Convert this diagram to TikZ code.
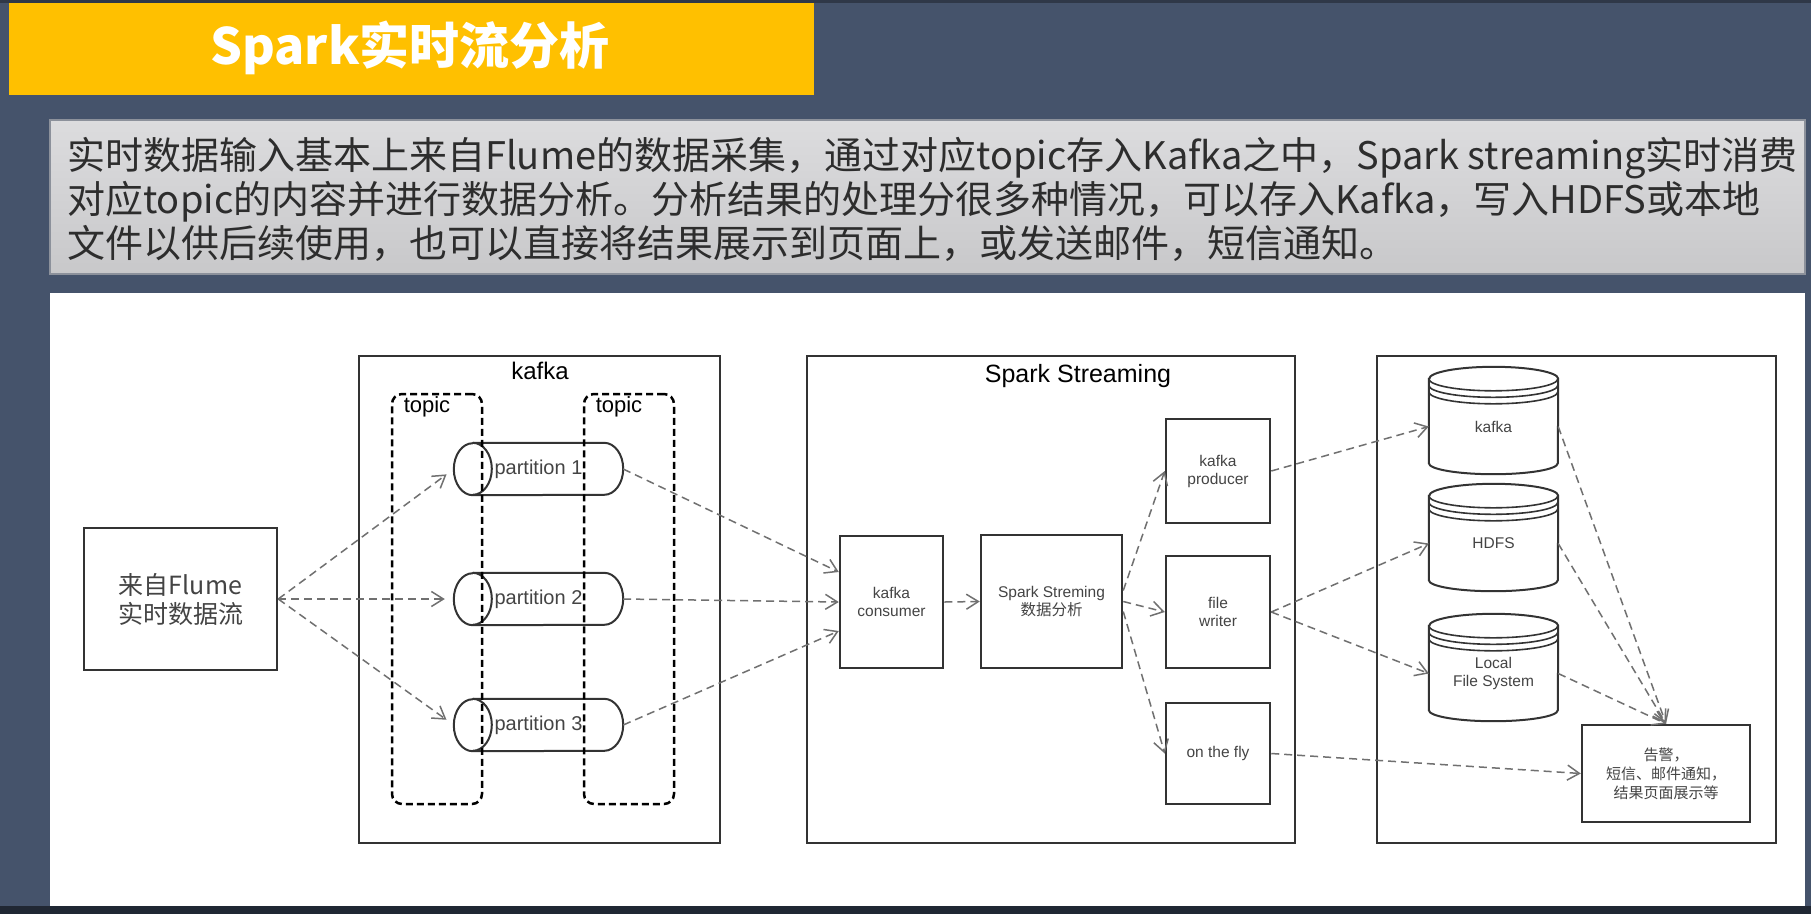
\documentclass[tikz,border=0pt]{standalone}
\usepackage{fontspec}
\usepackage{tikz}
\usetikzlibrary{positioning,arrows.meta}
\setmainfont{Liberation Sans}
\newfontfamily\cjk{Noto Sans CJK SC}

\definecolor{slate}{RGB}{69,83,107}
\definecolor{slatedark}{RGB}{47,56,72}
\definecolor{bottomdark}{RGB}{32,39,51}
\definecolor{banner}{RGB}{255,192,0}
\definecolor{desctop}{RGB}{220,220,222}
\definecolor{descbottom}{RGB}{200,200,202}
\definecolor{descline}{RGB}{140,145,155}
\definecolor{desctext}{RGB}{45,45,45}
\definecolor{boxline}{RGB}{51,51,51}
\definecolor{flowgray}{RGB}{112,112,112}
\definecolor{labelgray}{RGB}{68,68,68}

\tikzset{
  box/.style={draw=boxline, line width=2.5pt, fill=white, inner sep=0pt, text=labelgray, align=center},
  frame/.style={draw=boxline, line width=2.5pt, inner sep=0pt},
  topicbox/.style={draw=black, line width=2.5pt, dash pattern=on 7pt off 4pt, rounded corners=10pt, inner sep=0pt},
  partbox/.style={minimum width=169pt, minimum height=52pt, inner sep=0pt, text=labelgray, font=\fontsize{20}{24}\selectfont},
  store/.style={minimum width=129pt, minimum height=95pt, inner sep=0pt, text=labelgray, align=center, small},
  flow/.style={draw=flowgray, line width=1.5pt, dash pattern=on 8pt off 5pt, -{Straight Barb[length=12pt,width=15pt]}},
  small/.style={font=\fontsize{15.5}{18}\selectfont},
  heading/.style={text=black, inner sep=0pt},
}

\begin{document}
\begin{tikzpicture}[x=1pt,y=1pt]
\useasboundingbox (0,0) rectangle (1811,-914);
\fill[slate] (0,0) rectangle (1811,-914);
\fill[slatedark] (0,0) rectangle (1811,-3);
\fill[bottomdark] (0,-906) rectangle (1811,-914);
\fill[banner] (9,-3) rectangle (814,-95);
\node[font=\cjk\bfseries\fontsize{50}{60}\selectfont, text=white] (title) at (410,-48) {Spark实时流分析};
\shade[top color=desctop, bottom color=descbottom, draw=descline, line width=1.5pt] (50,-120) rectangle (1805,-274);
\node[font=\cjk\fontsize{38}{44}\selectfont, text=desctext, align=left, anchor=west, inner sep=0pt] (desc) at (67,-199)
  {实时数据输入基本上来自Flume的数据采集，通过对应topic存入Kafka之中，Spark streaming实时消费\\
   对应topic的内容并进行数据分析。分析结果的处理分很多种情况，可以存入Kafka，写入HDFS或本地\\
   文件以供后续使用，也可以直接将结果展示到页面上，或发送邮件，短信通知。};
\fill[white] (50,-293) rectangle (1805,-906);

\node[box, minimum width=193pt, minimum height=142pt, font=\cjk\fontsize{25}{29}\selectfont] (flume) at (180.5,-599) {来自Flume\\实时数据流};

\node[frame, minimum width=361pt, minimum height=487pt] (kafka) at (539.5,-599.5) {};
\node[heading, font=\fontsize{24}{28}\selectfont] (kafkaLbl) at (540,-371) {kafka};
\foreach \i/\y in {1/-469,2/-599,3/-725} {
  \node[partbox] (part\i) at (538.5,\y) {partition \i};
  \draw[boxline, line width=2pt] ([xshift=19pt]part\i.north west) -- ([xshift=-19pt]part\i.north east)
    arc[start angle=90, end angle=-90, x radius=19pt, y radius=26pt] -- ([xshift=19pt]part\i.south west)
    arc[start angle=270, end angle=90, x radius=19pt, y radius=26pt];
  \draw[boxline, line width=2pt] ([xshift=19pt]part\i.north west) arc[start angle=90, end angle=-90, x radius=19pt, y radius=26pt];
}
\node[topicbox, minimum width=90pt, minimum height=410pt] (topicA) at (437,-599) {};
\node[topicbox, minimum width=90pt, minimum height=410pt] (topicB) at (629,-599) {};
\node[heading, font=\fontsize{22}{26}\selectfont] at (427,-407) {topic};
\node[heading, font=\fontsize{22}{26}\selectfont] at (619,-407) {topic};

\node[frame, minimum width=488pt, minimum height=487pt] (spark) at (1051,-599.5) {};
\node[heading, font=\fontsize{25}{30}\selectfont] (sparkLbl) at (1078,-376) {Spark Streaming};
\node[box, small, minimum width=103pt, minimum height=132pt] (kc) at (891.5,-602) {kafka\\consumer};
\node[box, small, minimum width=141pt, minimum height=133pt] (ss) at (1051.5,-601.5) {Spark Streming\\{\cjk 数据分析}};
\node[box, small, minimum width=104pt, minimum height=104pt] (kp) at (1218,-471) {kafka\\producer};
\node[box, small, minimum width=104pt, minimum height=112pt] (fw) at (1218,-612) {file\\writer};
\node[box, small, minimum width=104pt, minimum height=101pt] (fly) at (1218,-753.5) {on the fly};

\node[frame, minimum width=399pt, minimum height=487pt] (sink) at (1576.5,-599.5) {};
\node[store] (dsKafka) at (1493.5,-426.5) {kafka};
\node[store] (dsHdfs) at (1493.5,-543.5) {HDFS};
\node[store] (dsLocal) at (1493.5,-673.5) {Local\\File System};
\foreach \n in {dsKafka,dsHdfs,dsLocal} {
  \draw[boxline, line width=2pt] (\n.north west) -- ([yshift=11pt]\n.south west)
    arc[start angle=180, end angle=360, x radius=64.5pt, y radius=11pt] -- (\n.north east)
    arc[start angle=0, end angle=180, x radius=64.5pt, y radius=12pt] -- cycle;
  \foreach \d in {0,6.5,13}
    \draw[boxline, line width=1.6pt] ([yshift=-\d pt]\n.north west) arc[start angle=180, end angle=360, x radius=64.5pt, y radius=12pt];
}
\node[box, minimum width=168pt, minimum height=97pt, font=\cjk\fontsize{15}{19}\selectfont] (alert) at (1666,-773.5) {告警，\\短信、邮件通知，\\结果页面展示等};

\foreach \i in {1,2,3}
  \draw[flow, shorten >=9pt] (flume.east) -- (part\i.west);
\draw[flow] (part1.east) -- ([yshift=30pt]kc.west);
\draw[flow] (part2.east) -- (kc.west);
\draw[flow] (part3.east) -- ([yshift=-29pt]kc.west);
\draw[flow] (kc.east) -- (ss.west);
\draw[flow] ([yshift=11pt]ss.east) -- (kp.west);
\draw[flow] (ss.east) -- (fw.west);
\draw[flow] ([yshift=-10pt]ss.east) -- (fly.west);
\draw[flow] (kp.east) -- (dsKafka.west);
\draw[flow] (fw.east) -- (dsHdfs.west);
\draw[flow] (fw.east) -- (dsLocal.west);
\draw[flow] (fly.east) -- (alert.west);
\foreach \n in {dsKafka,dsHdfs,dsLocal}
  \draw[flow] (\n.east) -- (alert.north);
\end{tikzpicture}
\end{document}
